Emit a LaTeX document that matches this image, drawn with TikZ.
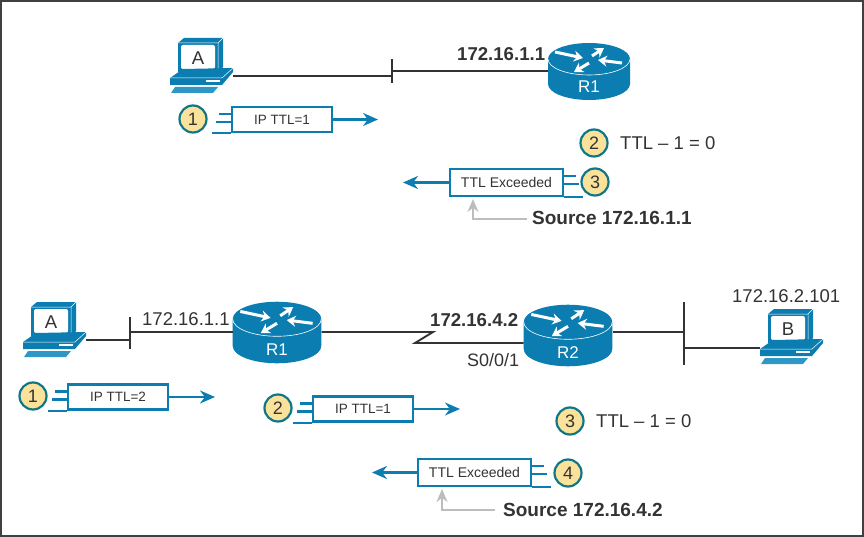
\documentclass[tikz,border=0pt]{standalone}
\usepackage{fontspec}
\setmainfont{Liberation Sans}
\usetikzlibrary{arrows.meta}
\definecolor{ciscoblue}{HTML}{0B7DB1}
\definecolor{paleblue}{HTML}{2F97C6}
\definecolor{stepfill}{HTML}{FBE29A}
\definecolor{stepline}{HTML}{0F7688}
\definecolor{inkgray}{HTML}{333333}
\definecolor{pointgray}{HTML}{BDBDBD}
\tikzset{
	wire/.style={line width=1.9pt,color=inkgray},
	flow/.style={line width=2.2pt,color=ciscoblue},
	flowtip/.style={flow,-{Stealth[length=15pt,width=13pt]}},
	pointer/.style={line width=2pt,color=pointgray,-{Stealth[length=13pt,width=11pt]}},
	pkt/.style={draw=ciscoblue,line width=2.2pt,fill=white,text=inkgray,minimum width=100pt,minimum height=25pt,inner sep=0pt,font=\fontsize{13.5}{15}\selectfont},
	stepnum/.style={circle,draw=stepline,fill=stepfill,line width=2.2pt,minimum size=27pt,inner sep=0pt,text=inkgray,font=\fontsize{18}{20}\selectfont},
	plain/.style={inner sep=0pt,text=inkgray,font=\fontsize{18.5}{20}\selectfont},
	bold/.style={plain,font=\fontsize{18.6}{20}\selectfont\bfseries},
	source/.style={plain,font=\fontsize{19}{20}\selectfont\bfseries},
	routerarrow/.style={white,line width=3pt,-{Stealth[length=9pt,width=11pt]}},
}
% #1 name, #2 position, #3 letter on the screen
\newcommand{\pcbox}[3]{
	\begin{scope}[shift={(#2)}]
		\fill[ciscoblue] (-20,-14)--(-14,-19)--(25,-19)--(25,10)--(20,15)--(-20,15)--cycle;
		\draw[white,line width=0.5pt] (-20,-14)--(20,-14)--(20,15) (20,-14)--(25,-19);
		\fill[white,rounded corners=2pt] (-17,-12) rectangle (17,12);
		\fill[ciscoblue] (-28,21)--(-15,12)--(35,11)--(35,15)--(24,28)--(-28,28)--cycle;
		\draw[white,line width=0.5pt] (-28,21)--(24,21)--(35,11);
		\fill[white] (8,23) rectangle (22,25);
		\fill[paleblue] (-23,30)--(20,30)--(15,36)--(-27,36)--cycle;
		\node[plain,text=inkgray] (#1 letter) at (0,1) {#3};
		\node[inner sep=0pt,minimum width=63pt,minimum height=17pt] (#1) at (3.5,19) {};
	\end{scope}
}
% #1 name, #2 position, #3 label on the front, #4 scale
\newcommand{\routerbox}[4]{
	\begin{scope}[shift={(#2)},scale=#4]
		\fill[ciscoblue] (-41,0)--(-41,25) arc[start angle=180,end angle=360,x radius=41pt,y radius=16pt]--(41,0) arc[start angle=0,end angle=180,x radius=41pt,y radius=16pt]--cycle;
		\draw[white,line width=0.6pt] (-41,0) arc[start angle=180,end angle=360,x radius=41pt,y radius=16pt];
		\draw[routerarrow] (-34,-7)--(-6,-1);
		\draw[routerarrow] (3,-3)--(15,-11);
		\draw[routerarrow] (33,4)--(9,1);
		\draw[routerarrow] (0,4)--(-15,13);
		\node[inner sep=0pt,text=white,font=\fontsize{17}{18}\selectfont] (#1 label) at (0,28) {#3};
		\node[transform shape,inner sep=0pt,minimum width=82pt,minimum height=24pt] (#1) at (0,12) {};
	\end{scope}
}
% tails behind a packet: #1 node, #2 side (west/east), #3 direction sign
\newcommand{\tails}[3]{
	\draw[flow] ([yshift=-8pt]#1.north #2)--([xshift=#3*12pt,yshift=-8pt]#1.north #2);
	\draw[flow] ([yshift=-16pt]#1.north #2)--([xshift=#3*15pt,yshift=-16pt]#1.north #2);
	\draw[flow] (#1.south #2)--([xshift=#3*19pt]#1.south #2);
}
\begin{document}
\begin{tikzpicture}[x=1pt,y=-1pt]
\useasboundingbox (0,0) rectangle (864,537);
\draw[color=black!75,line width=1.6pt] (0.8,0.8) rectangle (863.2,536.2);
% one router away
\begin{scope}
	\pcbox{A1}{198,57}{A}
	\routerbox{R1}{589,59}{R1}{1}
	\coordinate (T1a) at (392,59);
	\coordinate (T1b) at (392,83);
	\coordinate (T1m) at (392,71);
	\coordinate (T1n) at (392,76);
	\draw[wire] (T1a)--(T1b);
	\draw[wire] (A1.east)--(T1n);
	\draw[wire] (T1m)--(R1.west |- T1m);
	\node[bold,anchor=base west] (addrR1) at (457,61) {172.16.1.1};
	\node[stepnum] (s11) at (193,119) {1};
	\node[pkt] (p11) at (282,119.5) {IP TTL=1};
	\coordinate (p11tip) at (378,119.5);
	\draw[flowtip] (p11)--(p11tip);
	\tails{p11}{west}{-1}
	\node[stepnum] (s12) at (594,143) {2};
	\node[plain,anchor=west] (ttl1) at (620,143) {TTL – 1 = 0};
	\node[pkt,minimum width=113pt,minimum height=27pt,font=\fontsize{14}{16}\selectfont] (p12) at (506.5,182.5) {TTL Exceeded};
	\coordinate (p12tip) at (403,182.5);
	\draw[flowtip] (p12)--(p12tip);
	\tails{p12}{east}{1}
	\node[stepnum] (s13) at (595,182) {3};
	\node[source,anchor=west] (src1) at (532,218) {Source 172.16.1.1};
	\coordinate (g1) at (473,219);
	\coordinate (g1tip) at (473,199);
	\draw[pointer] (src1.west |- g1) ++(-5,0) -- (g1) -- (g1tip);
\end{scope}
% two routers away
\begin{scope}
	\pcbox{A2}{51,321}{A}
	\routerbox{R2}{277,319}{R1}{1.08}
	\routerbox{R3}{568,322}{R2}{1.08}
	\pcbox{B2}{788,328}{B}
	\coordinate (T2a) at (130,317);
	\coordinate (T2b) at (130,349);
	\coordinate (T2m) at (130,332);
	\coordinate (T2n) at (130,340);
	\draw[wire] (T2a)--(T2b);
	\draw[wire] (A2.east)--(T2n);
	\draw[wire] (T2m)--(R2.west |- T2m);
	% serial link with the bend
	\coordinate (Z1) at (433,332);
	\coordinate (Z2) at (415,343);
	\draw[wire] (R2.east |- Z1)--(Z1)--(Z2)--(R3.west |- Z2);
	\coordinate (T3a) at (684,302);
	\coordinate (T3b) at (684,365);
	\coordinate (T3m) at (684,332);
	\coordinate (T3n) at (684,348);
	\draw[wire] (T3a)--(T3b);
	\draw[wire] (R3.east |- T3m)--(T3m);
	\draw[wire] (T3n)--(B2.west |- T3n);
	\node[plain,anchor=base west] (addrR2) at (142,325) {172.16.1.1};
	\node[bold,anchor=base west] (addrS) at (430,326) {172.16.4.2};
	\node[plain,anchor=base west,font=\fontsize{18}{20}\selectfont] (serial) at (467,366) {S0/0/1};
	\node[plain,anchor=base west] (addrB) at (732,302) {172.16.2.101};
	\node[stepnum] (s21) at (33,396) {1};
	\node[pkt] (p21) at (118,397) {IP TTL=2};
	\coordinate (p21tip) at (215,397);
	\draw[flowtip] (p21)--(p21tip);
	\tails{p21}{west}{-1}
	\node[stepnum] (s22) at (278,408) {2};
	\node[pkt] (p22) at (363,409) {IP TTL=1};
	\coordinate (p22tip) at (460,409);
	\draw[flowtip] (p22)--(p22tip);
	\tails{p22}{west}{-1}
	\node[stepnum] (s23) at (570,421) {3};
	\node[plain,anchor=west] (ttl2) at (596,421) {TTL – 1 = 0};
	\node[pkt,minimum width=113pt,minimum height=27pt,font=\fontsize{14}{16}\selectfont] (p23) at (474.5,472.5) {TTL Exceeded};
	\coordinate (p23tip) at (372,472.5);
	\draw[flowtip] (p23)--(p23tip);
	\tails{p23}{east}{1}
	\node[stepnum] (s24) at (568,473) {4};
	\node[source,anchor=west] (src2) at (503,510) {Source 172.16.4.2};
	\coordinate (g2) at (442,510);
	\coordinate (g2tip) at (442,489);
	\draw[pointer] (src2.west |- g2) ++(-8,0) -- (g2) -- (g2tip);
\end{scope}
\end{tikzpicture}
\end{document}
